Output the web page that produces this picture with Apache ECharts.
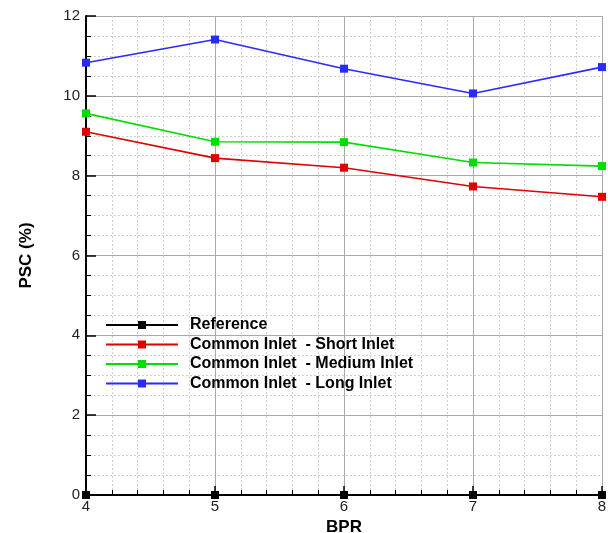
<!DOCTYPE html>
<html><head><meta charset="utf-8">
<script src="https://cdn.jsdelivr.net/npm/echarts@6/dist/echarts.min.js"></script>
<style>html,body{margin:0;padding:0;background:#fff}#c{width:608px;height:533px}</style>
</head><body><div id="c"></div>
<script>
const bpr = [4, 5, 6, 7, 8];
const seriesNames = ['Reference', 'Common Inlet  - Short Inlet', 'Common Inlet  - Medium Inlet', 'Common Inlet  - Long Inlet'];
const reference = [0, 0, 0, 0, 0];
const shortInlet = [9.10, 8.44, 8.20, 7.73, 7.47];
const mediumInlet = [9.56, 8.85, 8.84, 8.33, 8.24];
const longInlet = [10.83, 11.41, 10.68, 10.06, 10.72];
const colors = ['#000000', '#e00000', '#00dd00', '#2a2aff'];
const values = [reference, shortInlet, mediumInlet, longInlet];

const chart = echarts.init(document.getElementById('c'));
const font = 'Liberation Sans, Arial, sans-serif';
chart.setOption({
  animation: false,
  grid: {left: 86, right: 6, top: 16, bottom: 38, outerBoundsMode: 'none'},
  legend: {
    orient: 'vertical', left: 100, top: 312, itemWidth: 72, itemHeight: 10, itemGap: 3.5,
    textStyle: {fontFamily: font, fontWeight: 'bold', fontSize: 16, lineHeight: 16, color: '#000', padding: [0,0,0,7]},
    data: seriesNames
  },
  xAxis: {
    type: 'value', min: 4, max: 8, interval: 1,
    name: 'BPR', nameLocation: 'middle', nameGap: 13,
    nameTextStyle: {fontFamily: font, fontWeight: 'bold', fontSize: 17, color: '#000'},
    axisLine: {lineStyle: {color: '#000', width: 2}},
    axisTick: {inside: true, length: 9, lineStyle: {color: '#000', width: 1.5}},
    minorTick: {show: true, splitNumber: 5, length: 5, lineStyle: {color: '#000'}},
    axisLabel: {fontFamily: font, fontSize: 15, color: '#222', margin: 4},
    splitLine: {show: true, lineStyle: {color: '#aaa', width: 1}},
    minorSplitLine: {show: true, lineStyle: {color: '#d0d0d0', type: [2, 2], width: 1}}
  },
  yAxis: {
    type: 'value', min: 0, max: 12, interval: 2,
    name: 'PSC (%)', nameLocation: 'middle', nameGap: 51, nameRotate: 90,
    nameTextStyle: {fontFamily: font, fontWeight: 'bold', fontSize: 17, color: '#000'},
    axisLine: {show: true, lineStyle: {color: '#000', width: 2}},
    axisTick: {show: true, inside: true, length: 10, lineStyle: {color: '#000', width: 1.5}},
    minorTick: {show: true, splitNumber: 4, length: 5, lineStyle: {color: '#000'}},
    axisLabel: {fontFamily: font, fontSize: 15, color: '#222', margin: 6},
    splitLine: {show: true, lineStyle: {color: '#aaa', width: 1}},
    minorSplitLine: {show: true, lineStyle: {color: '#d0d0d0', type: [2, 2], width: 1}}
  },
  series: seriesNames.map((n, i) => ({
    name: n, type: 'line',
    data: bpr.map((x, j) => [x, values[i][j]]),
    symbol: 'rect', symbolSize: 8,
    itemStyle: {color: colors[i]},
    lineStyle: {color: colors[i], width: 1.6},
    z: 5 + i
  }))
});
</script></body></html>
